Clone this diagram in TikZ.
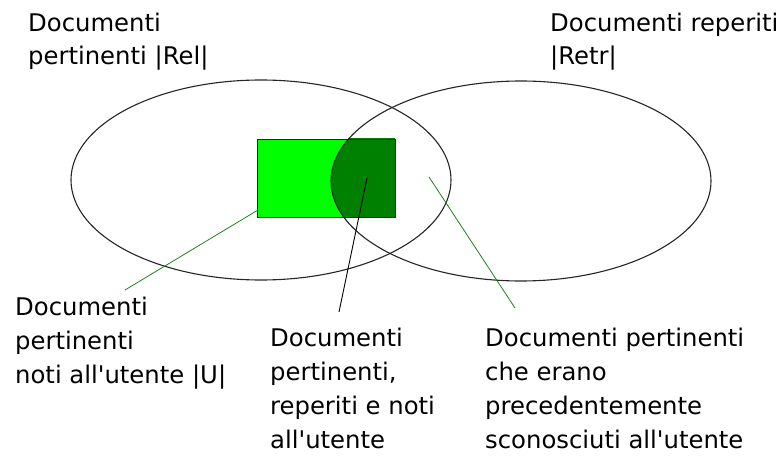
\documentclass[tikz,border=0pt]{standalone}
\usepackage{fontspec}
\newfontfamily\lbl{DejaVu Sans}
\definecolor{brightgreen}{RGB}{0,255,0}
\definecolor{darkgreen}{RGB}{0,128,0}
\definecolor{linegreen}{RGB}{30,130,30}
\begin{document}
\begin{tikzpicture}[x=1pt,y=-1pt,
  lbltext/.style={anchor=base west, inner sep=0pt, align=left,
    font={\lbl\fontsize{24.3}{33.7}\selectfont}},
  setline/.style={line width=1.1pt, draw=black!85},
  greenptr/.style={line width=0.8pt, draw=linegreen},
  blackptr/.style={line width=0.9pt, draw=black}]
\useasboundingbox (0,0) rectangle (782,457);
\fill[white] (0,0) rectangle (782,457);
% rectangle (known documents)
\fill[brightgreen] (257,139) rectangle (395,217);
\begin{scope}
  \clip (257,139) rectangle (395,217);
  \fill[darkgreen] (521,181) ellipse [x radius=190, y radius=100];
\end{scope}
\draw[line width=0.9pt, black!85] (257,139) rectangle (395,217);
% ellipses
\draw[setline] (261,180) ellipse [x radius=190, y radius=100];
\draw[setline] (521,181) ellipse [x radius=190, y radius=100];
% labels (anchored at the baseline of their last line)
\node[lbltext] (rel) at (28,65) {Documenti\\pertinenti |Rel|};
\node[lbltext] (retr) at (550,65) {Documenti reperiti\\|Retr|};
\node[lbltext] (known) at (15,383) {Documenti\\pertinenti\\noti all'utente |U|};
\node[lbltext] (both) at (270,448) {Documenti\\pertinenti,\\reperiti e noti\\all'utente};
\node[lbltext] (new) at (485,448) {Documenti pertinenti\\che erano\\precedentemente\\sconosciuti all'utente};
% pointer lines
\coordinate (p1a) at (258,210);
\coordinate (p1b) at (125,290);
\coordinate (p2a) at (367,178);
\coordinate (p2b) at (339,312);
\coordinate (p3a) at (429,177);
\coordinate (p3b) at (515,308);
\draw[greenptr] (p1a) -- (p1b);
\draw[blackptr] (p2a) -- (p2b);
\draw[greenptr] (p3a) -- (p3b);
\end{tikzpicture}
\end{document}
